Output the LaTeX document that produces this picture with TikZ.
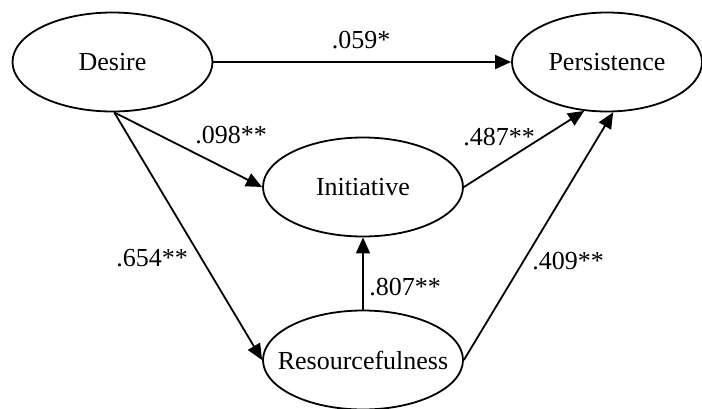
\documentclass[tikz,border=0pt]{standalone}
\usepackage{fontspec}
\setmainfont{Liberation Serif}
\usetikzlibrary{shapes.geometric,arrows.meta}
\begin{document}
\begin{tikzpicture}[x=1pt, y=-1pt, line width=1.8pt,
  every node/.style={font=\fontsize{26}{30}\selectfont},
  construct/.style={ellipse, draw, inner sep=0pt, minimum width=200pt, minimum height=99pt},
  path/.style={-{Triangle[length=16pt,width=14pt]}},
  coef/.style={inner sep=0pt}]
\useasboundingbox (0,0) rectangle (702,408);
\node[construct] (desire) at (112.5,62) {\makebox[0pt]{Desire}};
\node[construct, minimum width=190pt] (persist) at (607,62) {\makebox[0pt]{Persistence}};
\node[construct] (init) at (363,187) {\makebox[0pt]{Initiative}};
\node[construct] (resource) at (363,360) {\makebox[0pt]{Resourcefulness}};
% paths
\draw[path] (desire) -- (persist);
\draw[path] (desire.-88) -- (init.west);
\draw[path] (desire.-88) -- (resource.west);
\draw[path] (init.east) -- (persist.-115);
\draw[path] (resource.east) -- (persist.-83);
\draw[path] (resource.north) -- (init.south);
% coefficients
\node[coef] (c1) at (361,40) {.059*};
\node[coef] (c2) at (231,135) {.098**};
\node[coef] (c3) at (499,137) {.487**};
\node[coef] (c4) at (152,258) {.654**};
\node[coef] (c5) at (405,287) {.807**};
\node[coef] (c6) at (568,261) {.409**};
\end{tikzpicture}
\end{document}
